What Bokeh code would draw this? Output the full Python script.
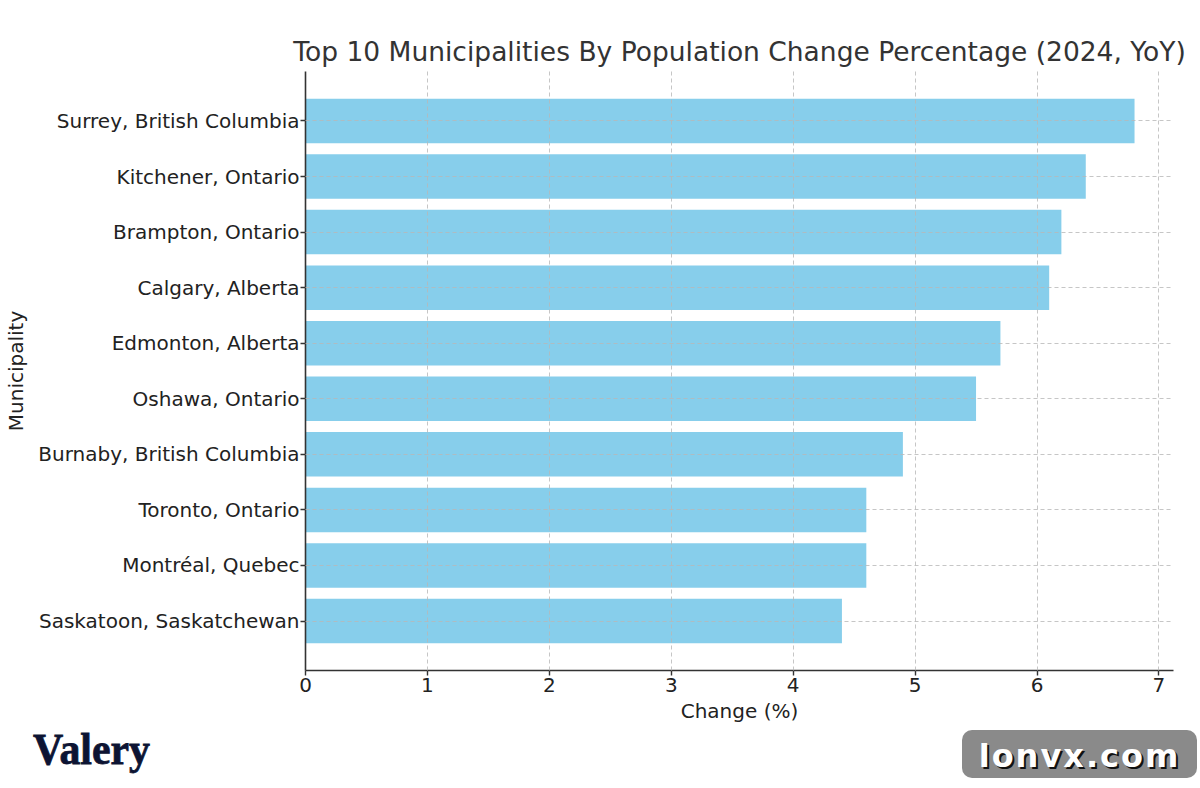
from bokeh.plotting import figure
from bokeh.layouts import column
from bokeh.models import Range1d, FixedTicker, ColumnDataSource, Div
from bokeh.embed import file_html
from bokeh.resources import INLINE

municipalities = [
    "Surrey, British Columbia",
    "Kitchener, Ontario",
    "Brampton, Ontario",
    "Calgary, Alberta",
    "Edmonton, Alberta",
    "Oshawa, Ontario",
    "Burnaby, British Columbia",
    "Toronto, Ontario",
    "Montréal, Quebec",
    "Saskatoon, Saskatchewan",
]
change_pct = [6.8, 6.4, 6.2, 6.1, 5.7, 5.5, 4.9, 4.6, 4.6, 4.4]
x_ticks = [0, 1, 2, 3, 4, 5, 6, 7]
logo_text = "Valery"
watermark_text = "lonvx.com"

n = len(municipalities)
ypos = [n - 1 - i for i in range(n)]
src = ColumnDataSource(dict(y=ypos, v=change_pct, name=municipalities))

FONT = "DejaVu Sans"
W, H = 1200, 788
MAIN_H = 725
FOOT_H = H - MAIN_H
BL, BR, BT, BB = 305, 27, 71, MAIN_H - 671
p = figure(width=W, height=MAIN_H, output_backend="svg", toolbar_location=None,
           x_range=Range1d(0, max(change_pct) * 1.047),
           y_range=Range1d(-0.89, n - 1 + 0.89),
           min_border_left=BL, min_border_right=BR, min_border_top=BT, min_border_bottom=BB,
           margin=0)

p.hbar(y="y", right="v", left=0, height=0.8, source=src, fill_color="#87CEEB", line_color=None)

p.title.text = "Top 10 Municipalities By Population Change Percentage (2024, YoY)"
p.title.align = "center"
p.title.text_font = FONT
p.title.text_font_style = "normal"
p.title.text_font_size = "26.5px"
p.title.text_color = "#333333"

p.outline_line_color = None
p.xaxis.ticker = FixedTicker(ticks=x_ticks)
p.yaxis.ticker = FixedTicker(ticks=ypos)
p.yaxis.major_label_overrides = {y: name for y, name in zip(ypos, municipalities)}

for ax in (p.xaxis[0], p.yaxis[0]):
    ax.axis_line_color = "#333333"
    ax.axis_line_width = 1.6
    ax.major_tick_line_color = "#333333"
    ax.major_tick_line_width = 1.4
    ax.major_tick_out = 5
    ax.major_tick_in = 0
    ax.minor_tick_line_color = None
    ax.major_label_text_font = FONT
    ax.major_label_text_font_size = "20px"
    ax.major_label_text_color = "#222222"
    ax.axis_label_text_font = FONT
    ax.axis_label_text_font_size = "20px"
    ax.axis_label_text_font_style = "normal"
    ax.axis_label_text_color = "#222222"

p.xaxis.axis_label = "Change (%)"
p.yaxis.axis_label = "Municipality"
p.xaxis.major_label_standoff = 2
p.yaxis.major_label_standoff = 1
p.xaxis.axis_label_standoff = 4
p.yaxis.axis_label_standoff = 7

for g in (p.xgrid[0], p.ygrid[0]):
    g.grid_line_color = "#b8b8b8"
    g.grid_line_dash = "4 3"
    g.grid_line_width = 1
    g.grid_line_alpha = 0.8
    g.level = "overlay"

footer_html = (
    f'<div style="position:relative;width:{W}px;height:{FOOT_H}px;overflow:hidden;">'
    f'<span style="position:absolute;left:33px;top:2px;font-family:\'Liberation Serif\';'
    f'font-weight:bold;font-size:45px;line-height:1;color:#0d1433;'
    f'-webkit-text-stroke:0.8px #0d1433;transform:scaleX(0.93);transform-origin:left top;'
    f'white-space:nowrap;">{logo_text}</span>'
    f'<span style="position:absolute;left:962px;top:5px;width:235px;height:48px;'
    f'background:#8a8a8a;border-radius:10px;display:flex;align-items:center;'
    f'justify-content:center;font-family:\'DejaVu Sans\';font-weight:bold;font-size:32px;'
    f'letter-spacing:2px;padding-top:3px;box-sizing:border-box;'
    f'line-height:1;color:#ffffff;text-shadow:2px 2px 0 #111111;">{watermark_text}</span>'
    f'</div>'
)
footer = Div(text=footer_html, width=W, height=FOOT_H, margin=0)

page = column(p, footer, spacing=0)
html = file_html(page, INLINE)
open("out.html", "w").write(html)
